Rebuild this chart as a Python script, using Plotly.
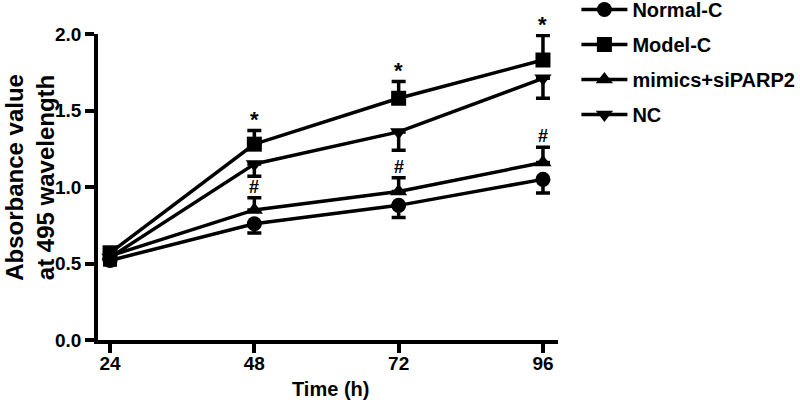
import plotly.graph_objects as go

times = [24, 48, 72, 96]
series_names = ["Normal-C", "Model-C", "mimics+siPARP2", "NC"]
normal_c = [0.52, 0.76, 0.88, 1.05]
normal_c_err = [0.03, 0.06, 0.08, 0.09]
model_c = [0.57, 1.28, 1.58, 1.83]
model_c_err = [0.03, 0.09, 0.11, 0.16]
mimics = [0.55, 0.85, 0.97, 1.16]
mimics_err = [0.03, 0.08, 0.09, 0.10]
nc = [0.54, 1.15, 1.36, 1.71]
nc_err = [0.03, 0.08, 0.12, 0.13]
x_ticks = [24, 48, 72, 96]
y_ticks = [0.0, 0.5, 1.0, 1.5, 2.0]
y_tick_labels = ["0.0", "0.5", "1.0", "1.5", "2.0"]
x_title = "Time (h)"
y_title = "Absorbance value<br>at 495 wavelength"
star_label = "*"
hash_label = "#"

FONT = "Liberation Sans, Arial, sans-serif"

fig = go.Figure()

specs = [
    (series_names[0], normal_c, normal_c_err, "circle", "down"),
    (series_names[1], model_c, model_c_err, "square", "up"),
    (series_names[2], mimics, mimics_err, "triangle-up", "up"),
    (series_names[3], nc, nc_err, "triangle-down", "down"),
]
for name, vals, err, sym, direction in specs:
    zeros = [0] * len(err)
    fig.add_trace(go.Scatter(
        x=times, y=vals, name=name, mode="lines+markers",
        line=dict(color="black", width=3.5),
        marker=dict(symbol=sym, size=15, color="black"),
        error_y=dict(type="data", symmetric=False,
                     array=err if direction == "up" else zeros,
                     arrayminus=err if direction == "down" else zeros,
                     color="black", thickness=3.5, width=7),
        cliponaxis=False, legendgroup=name,
    ))

# significance marks
for i in range(1, 4):
    fig.add_annotation(x=times[i], y=model_c[i] + model_c_err[i], text=star_label,
                       showarrow=False, yshift=11, font=dict(family=FONT, size=22, color="black", weight="bold"))
    fig.add_annotation(x=times[i], y=mimics[i] + mimics_err[i], text=hash_label,
                       showarrow=False, yshift=11, font=dict(family=FONT, size=18, color="black", weight="bold"))

# axis titles
fig.add_annotation(xref="paper", yref="paper", x=0.5065, y=-0.16, text=x_title, showarrow=False,
                   xanchor="center", yanchor="middle",
                   font=dict(family=FONT, size=20, color="black", weight="bold"))
fig.add_annotation(xref="paper", yref="paper", x=-0.148, y=0.533, text=y_title, showarrow=False,
                   xanchor="center", yanchor="middle", textangle=-90,
                   font=dict(family=FONT, size=24, color="black", weight="bold"))

axis_font = dict(family=FONT, size=19, color="black", weight="bold")
fig.update_layout(
    width=800, height=404,
    margin=dict(l=98, r=242, t=34, b=64, autoexpand=False),
    paper_bgcolor="white", plot_bgcolor="white",
    font=dict(family=FONT, color="black"),
    showlegend=True,
    legend=dict(x=1.04, y=1.144, xanchor="left", yanchor="top",
                font=dict(family=FONT, size=20, color="black", weight="bold"),
                tracegroupgap=6, bgcolor="rgba(0,0,0,0)", itemwidth=46),
    xaxis=dict(range=[22, 98.5], tickvals=x_ticks, ticktext=[str(t) for t in x_ticks],
               showline=True, linecolor="black", linewidth=3.5,
               ticks="outside", ticklen=9, tickwidth=3.5, tickcolor="black",
               showgrid=False, zeroline=False, tickfont=axis_font, ticklabelstandoff=-6),
    yaxis=dict(range=[0, 2.0], tickvals=y_ticks, ticktext=y_tick_labels,
               showline=True, linecolor="black", linewidth=3.5,
               ticks="outside", ticklen=9, tickwidth=3.5, tickcolor="black",
               showgrid=False, zeroline=False, tickfont=axis_font, ticklabelstandoff=0),
)

fig.write_html("out.html", config={"displayModeBar": False},
               post_script="document.body.style.margin='0';")
